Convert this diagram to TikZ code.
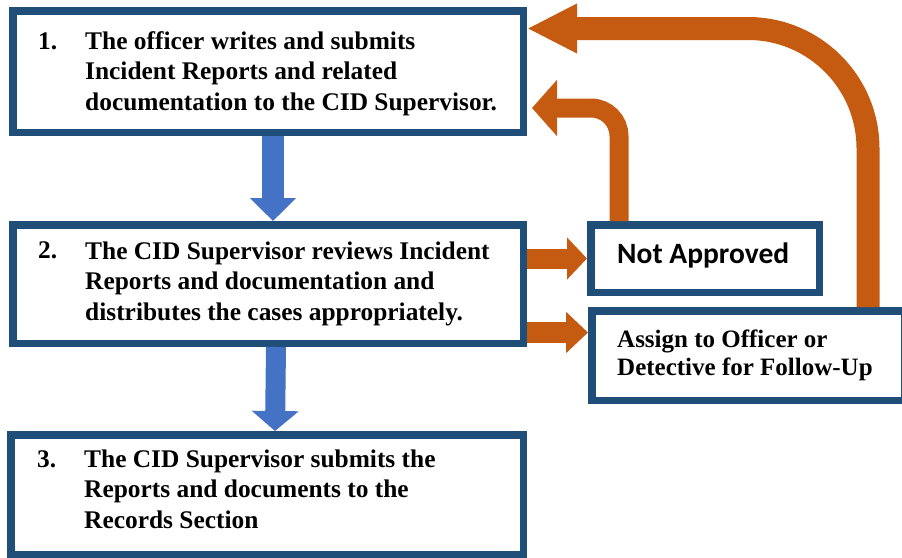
\documentclass[tikz,border=0pt]{standalone}
\usepackage{fontspec}
\setmainfont{Liberation Serif}
\newfontfamily\carlito{Carlito}
\usetikzlibrary{arrows.meta}
\definecolor{boxblue}{HTML}{1F4E79}
\definecolor{arrblue}{HTML}{4472C4}
\definecolor{arrorange}{HTML}{C55A11}
\begin{document}
\begin{tikzpicture}[x=1pt,y=-1pt,
  box/.style={draw=boxblue, line width=7.5pt, fill=white, inner sep=0pt},
  txt/.style={anchor=base west, inner sep=0pt, font=\bfseries\fontsize{25.4}{30.5}\selectfont, align=left},
  smalltxt/.style={anchor=base west, inner sep=0pt, font=\bfseries\fontsize{25}{28}\selectfont, align=left},
  downarrow/.style={draw=arrblue, line width=22pt, -{Triangle[length=23pt,width=45pt]}},
  orangearrow/.style={draw=arrorange, line width=20pt, -{Triangle[length=20pt,width=41pt]}},
  returnbig/.style={draw=arrorange, line width=23pt, rounded corners=120pt, -{Triangle[length=50pt,width=46pt]}},
  returnsmall/.style={draw=arrorange, line width=19pt, rounded corners=28pt, -{Triangle[length=25pt,width=55pt]}}]
\useasboundingbox (0,0) rectangle (902,557);

% boxes
\node[box, minimum width=510.5pt, minimum height=121.5pt] (b1) at (268,71.5) {};
\node[box, minimum width=510.5pt, minimum height=118.5pt] (b2) at (268,284) {};
\node[box, minimum width=512.5pt, minimum height=119.5pt] (b3) at (267,494.5) {};
\node[box, minimum width=228.5pt, minimum height=67.5pt] (na) at (705,258.5) {};
\node[box, minimum width=312.5pt, minimum height=89.5pt] (as) at (748,355.5) {};

% texts (base anchor = baseline of the last line)
\node[txt] (n1) at (38,49) {1.};
\node[txt] (t1) at (85,110) {The officer writes and submits\\Incident Reports and related\\documentation to the CID Supervisor.};
\node[txt] (n2) at (38,258) {2.};
\node[txt] (t2) at (85,320) {The CID Supervisor reviews Incident\\Reports and documentation and\\distributes the cases appropriately.};
\node[txt] (n3) at (37,467) {3.};
\node[txt] (t3) at (84,528) {The CID Supervisor submits the\\Reports and documents to the\\Records Section};
\node[anchor=base west, inner sep=0pt, font=\carlito\bfseries\fontsize{29.5}{32}\selectfont] (tna) at (617,263) {Not Approved};
\node[smalltxt] (tas) at (617,375) {Assign to Officer or\\Detective for Follow-Up};

% blue arrows
\draw[downarrow] ([xshift=5pt]b1.south) -- ([xshift=5pt]b2.north);
\draw[downarrow, line width=20pt, -{Triangle[length=20pt,width=46pt]}] ([xshift=8pt]b2.south) -- ([xshift=8pt]b3.north);

% orange arrows
\draw[orangearrow] (b2.east |- na.west) -- (na.west);
\draw[orangearrow, line width=21pt, -{Triangle[length=22pt,width=40pt]}] (b2.east |- 0,332.5) -- (as.west |- 0,332.5);

% return arrows
\coordinate (bigtop) at (868,28.5);
\coordinate (smalltop) at (619,108);
\draw[returnbig] (as.north -| bigtop) -- (bigtop) -- (b1.east |- bigtop);
\draw[returnsmall] (na.north -| smalltop) -- (smalltop) -- ([xshift=5pt]b1.east |- smalltop);
\end{tikzpicture}
\end{document}
